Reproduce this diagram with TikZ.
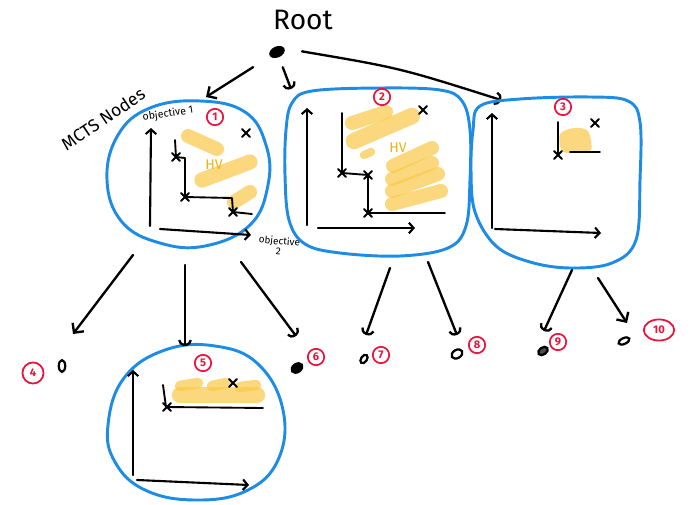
\documentclass[tikz,border=0pt]{standalone}
\usepackage{fontspec}
\setmainfont{Fira Sans}
\usetikzlibrary{arrows.meta,shapes.geometric}
\definecolor{inkblue}{RGB}{30,140,228}
\definecolor{inkred}{RGB}{232,20,60}
\definecolor{hvyellow}{RGB}{250,200,70}
\definecolor{hvtext}{RGB}{240,178,20}
\tikzset{
  ink/.style={line width=2pt, line cap=round, line join=round},
  blob/.style={draw=inkblue, line width=2.5pt, line cap=round, line join=round},
  arr/.style={ink, -{Straight Barb[length=6pt,width=12pt]}},
  arrc/.style={ink, -{Arc Barb[length=5pt,width=12pt]}},
  axis/.style={ink, line width=1.8pt, -{Straight Barb[length=4pt,width=9pt]}},
  front/.style={ink, line width=1.6pt},
  hv/.style={draw=hvyellow, line width=12pt, opacity=0.7, line cap=round},
  redlabel/.style={draw=inkred, text=inkred, circle, line width=1.5pt, inner sep=0.5pt,
    minimum size=14pt, font=\fontsize{9.5}{9.5}\selectfont\bfseries},
  leaf/.style={draw=black, ellipse, line width=1.9pt, inner sep=0pt},
  hvlabel/.style={text=hvtext, font=\fontsize{12}{12}\selectfont},
  xmark/.pic={\draw[ink, line width=1.6pt] (-4,-4) -- (4,4) (-4,4) -- (4,-4);},
}
\begin{document}
\begin{tikzpicture}[x=0.03cm, y=-0.03cm]
\useasboundingbox (0,0) rectangle (692,505);

% ---------- root ----------
\node[font=\fontsize{24}{24}\selectfont] (roottext) at (303,20) {Root};
\node[fill=black, ellipse, minimum width=14pt, minimum height=9pt, rotate=25] (root) at (277,52) {};

\coordinate (b1in) at (206,97);
\coordinate (b2in) at (291,89);
\coordinate (b3in) at (501,100);
\draw[arr, shorten <=17pt] (root) -- (b1in);
\draw[arrc, shorten <=9pt] (root) -- (b2in);
\draw[arrc, shorten <=15pt] (root.east) .. controls (400,68) .. (b3in);

% ---------- node 1 ----------
\draw[blob] plot[smooth cycle, tension=0.7] coordinates {(107,180) (118,135) (150,108) (200,101) (245,112) (266,145) (268,185) (250,225) (205,246) (160,243) (122,222)};
\node[font=\fontsize{15}{15}\selectfont, rotate=34] (mcts) at (103,119) {MCTS Nodes};
\node[font=\fontsize{9}{9}\selectfont, rotate=9] (obj1) at (168,114) {objective 1};
\node[font=\fontsize{8.5}{9}\selectfont, align=center, rotate=-5] (obj2) at (279,246) {objective\\2};
\draw[hv] (188,136) -- (217,149);
\draw[hv, line width=13pt] (202,180) -- (250,162);
\draw[hv] (234,202) -- (250,192);
\node[hvlabel] (hv1) at (214,165) {HV};
\draw[axis] (150,226) -- (151,128);
\draw[axis] (160,229) -- (251,235);
\draw[front] (175,140) -- (176,157) -- (185,158) -- (185,197) -- (232,198) -- (233,212) -- (252,214);
\pic at (176,157) {xmark};
\pic at (185,197) {xmark};
\pic at (233,212) {xmark};
\pic at (246,133) {xmark};
\node[redlabel] (l1) at (215,117) {1};

% ---------- node 2 ----------
\draw[blob] plot[smooth cycle, tension=0.6] coordinates {(286,130) (292,103) (312,91) (380,88) (440,90) (462,101) (470,130) (470,180) (466,226) (448,248) (400,256) (340,253) (305,244) (289,220) (285,175)};
\draw[hv] (352,123) -- (386,112);
\draw[hv, line width=14pt] (354,141) -- (412,116);
\draw[hv, line width=7pt] (364,155) -- (371,152);
\draw[hv] (393,166) -- (432,148);
\draw[hv] (392,179) -- (432,163);
\draw[hv] (392,191) -- (438,174);
\draw[hv] (392,204) -- (441,191);
\node[hvlabel] (hv2) at (398,148) {HV};
\draw[axis] (307,225) -- (307,108);
\draw[axis] (318,228) -- (415,228);
\draw[front] (342,113) -- (342,173) -- (368,175) -- (368,213) -- (445,213);
\pic at (342,173) {xmark};
\pic at (368,175) {xmark};
\pic at (368,213) {xmark};
\pic at (423,110) {xmark};
\node[redlabel] (l2) at (382,97) {2};

% ---------- node 3 ----------
\draw[blob] plot[smooth cycle, tension=0.6] coordinates {(473,130) (480,106) (520,99) (590,97) (628,101) (640,122) (640,180) (636,240) (612,263) (570,268) (530,262) (496,246) (475,212) (471,170)};
\fill[hvyellow, opacity=0.7] plot[smooth cycle] coordinates {(560,134) (574,128) (588,131) (591,150) (576,153) (562,151)};
\draw[axis] (492,228) -- (492,113);
\draw[axis] (495,229) -- (601,233);
\draw[front] (558,122) -- (558,155);
\draw[front] (570,152) -- (600,152);
\pic at (558,155) {xmark};
\pic at (595,123) {xmark};
\node[redlabel] (l3) at (563,107) {3};

% ---------- node 5 ----------
\draw[blob] plot[smooth cycle, tension=0.7] coordinates {(108,425) (124,378) (165,350) (215,346) (258,364) (283,410) (278,460) (246,491) (195,500) (145,490) (115,462)};
\draw[hv, line width=14pt] (180,395) -- (257,395);
\draw[hv, line width=9pt] (180,386) -- (198,383);
\draw[hv, line width=9pt] (212,386) -- (226,383);
\draw[hv, line width=9pt] (240,387) -- (256,385);
\draw[axis] (133,475) -- (133,370);
\draw[axis] (137,480) -- (249,485);
\draw[front] (163,385) -- (166,407) -- (263,408);
\pic at (167,407) {xmark};
\pic at (233,383) {xmark};
\node[redlabel] (l5) at (203,363) {5};

% ---------- leaves ----------
\node[leaf, minimum width=5.5pt, minimum height=10pt] (n4) at (62,366) {};
\node[redlabel, minimum size=18pt] (l4) at (33,373) {4};
\node[leaf, fill=black, minimum width=10pt, minimum height=7pt, rotate=35] (n6) at (297,368) {};
\node[redlabel] (l6) at (316,357) {6};
\node[leaf, minimum width=8pt, minimum height=5pt, rotate=55] (n7) at (364,359) {};
\node[redlabel] (l7) at (381,355) {7};
\node[leaf, minimum width=10pt, minimum height=7pt, rotate=30] (n8) at (457,354) {};
\node[redlabel] (l8) at (477,345) {8};
\node[leaf, fill=black!70, minimum width=9pt, minimum height=6pt, rotate=35] (n9) at (543,351) {};
\node[redlabel] (l9) at (558,342) {9};
\node[leaf, minimum width=10pt, minimum height=5pt, rotate=25] (n10) at (624,341) {};
\node[redlabel, ellipse, minimum width=26pt, minimum height=18pt] (l10) at (659,330) {10};

% ---------- expansions ----------
\coordinate (s4) at (133,255);  \coordinate (t4) at (73,334);
\coordinate (s5) at (185,265);  \coordinate (t5) at (185,346);
\coordinate (s6) at (241,262);  \coordinate (t6) at (296,336);
\coordinate (s7) at (390,268);  \coordinate (t7) at (366,335);
\coordinate (s8) at (428,262);  \coordinate (t8) at (457,335);
\coordinate (s9) at (572,270);  \coordinate (t9) at (544,331);
\coordinate (s10) at (598,278); \coordinate (t10) at (627,323);
\draw[arr] (s4) -- (t4);
\draw[arrc] (s5) -- (t5);
\draw[arrc] (s6) -- (t6);
\draw[arrc] (s7) -- (t7);
\draw[arrc] (s8) -- (t8);
\draw[arrc] (s9) -- (t9);
\draw[arr] (s10) -- (t10);
\end{tikzpicture}
\end{document}
